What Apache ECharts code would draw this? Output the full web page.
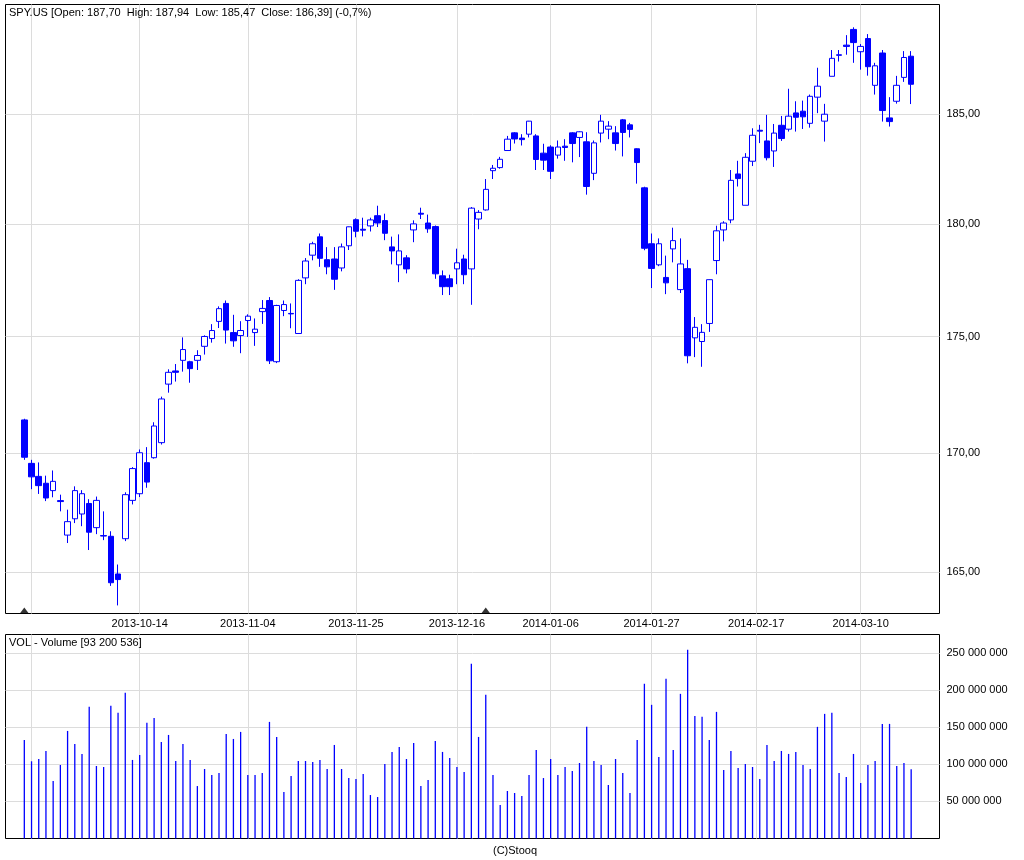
<!DOCTYPE html>
<html><head><meta charset="utf-8">
<script src="https://cdn.jsdelivr.net/npm/echarts@6/dist/echarts.min.js"></script>
<style>html,body{margin:0;padding:0;background:#fff}#c{width:1024px;height:860px}</style>
</head><body><div id="c"></div>
<script>
const ticker = 'SPY.US';
const dates = ['2013-09-20','2013-09-23','2013-09-24','2013-09-25','2013-09-26','2013-09-27','2013-09-30',
'2013-10-01','2013-10-02','2013-10-03','2013-10-04','2013-10-07','2013-10-08','2013-10-09','2013-10-10','2013-10-11','2013-10-14','2013-10-15','2013-10-16','2013-10-17','2013-10-18','2013-10-21','2013-10-22','2013-10-23','2013-10-24','2013-10-25','2013-10-28','2013-10-29','2013-10-30','2013-10-31',
'2013-11-01','2013-11-04','2013-11-05','2013-11-06','2013-11-07','2013-11-08','2013-11-11','2013-11-12','2013-11-13','2013-11-14','2013-11-15','2013-11-18','2013-11-19','2013-11-20','2013-11-21','2013-11-22','2013-11-25','2013-11-26','2013-11-27','2013-11-29',
'2013-12-02','2013-12-03','2013-12-04','2013-12-05','2013-12-06','2013-12-09','2013-12-10','2013-12-11','2013-12-12','2013-12-13','2013-12-16','2013-12-17','2013-12-18','2013-12-19','2013-12-20','2013-12-23','2013-12-24','2013-12-26','2013-12-27','2013-12-30','2013-12-31',
'2014-01-02','2014-01-03','2014-01-06','2014-01-07','2014-01-08','2014-01-09','2014-01-10','2014-01-13','2014-01-14','2014-01-15','2014-01-16','2014-01-17','2014-01-21','2014-01-22','2014-01-23','2014-01-24','2014-01-27','2014-01-28','2014-01-29','2014-01-30','2014-01-31',
'2014-02-03','2014-02-04','2014-02-05','2014-02-06','2014-02-07','2014-02-10','2014-02-11','2014-02-12','2014-02-13','2014-02-14','2014-02-18','2014-02-19','2014-02-20','2014-02-21','2014-02-24','2014-02-25','2014-02-26','2014-02-27','2014-02-28',
'2014-03-03','2014-03-04','2014-03-05','2014-03-06','2014-03-07','2014-03-10','2014-03-11','2014-03-12','2014-03-13','2014-03-14','2014-03-17','2014-03-18','2014-03-19'];

const open = [171.40,169.55,169.00,168.71,168.40,167.98,166.54,167.22,167.42,167.86,
166.85,166.52,166.49,164.93,166.39,167.99,168.27,169.58,169.79,170.43,
172.94,173.51,173.97,173.91,173.97,174.58,174.92,175.67,176.46,175.18,
175.05,175.71,175.18,176.10,176.59,173.91,176.15,176.02,175.14,177.59,
178.60,179.42,178.40,178.43,178.03,179.02,180.19,179.76,179.91,180.37,
180.15,178.97,178.17,178.48,179.73,180.48,180.04,179.88,177.68,177.55,
177.99,178.43,177.99,180.22,180.63,182.41,182.55,183.33,184.14,183.90,
184.08,184.00,183.21,183.49,183.12,183.53,184.14,183.93,183.73,182.29,
184.13,184.31,184.14,184.74,184.51,183.41,181.63,179.11,178.17,177.61,
178.88,177.07,178.00,174.95,174.79,175.58,178.36,179.73,180.18,182.26,
180.84,182.84,184.26,183.77,183.31,184.49,184.31,185.06,185.14,184.58,
185.79,184.68,186.76,187.74,188.22,188.96,187.91,188.53,186.34,187.85,
184.83,185.60,186.71,187.70];

const high = [171.45,169.70,169.59,169.03,169.25,168.23,167.60,168.58,168.42,168.04,
168.15,167.53,166.70,165.32,168.33,169.39,170.14,170.24,171.30,172.40,
173.58,173.81,174.97,173.95,174.41,175.06,175.55,176.33,176.59,175.96,
175.68,175.98,175.80,176.61,176.74,176.40,176.59,176.46,177.53,178.47,
179.20,179.57,178.96,178.96,179.12,179.88,180.25,180.28,180.28,180.82,
180.46,179.43,179.53,178.60,180.16,180.73,180.42,179.93,177.92,177.73,
178.89,178.62,180.76,180.62,182.03,182.67,183.04,184.00,184.17,184.08,
184.69,184.08,183.64,183.57,183.79,183.85,184.17,184.21,184.17,183.79,
184.97,184.68,184.45,184.78,184.60,183.43,181.68,179.57,179.35,178.58,
179.83,179.35,178.39,175.86,175.55,177.52,179.92,180.12,182.44,182.86,
183.21,184.35,184.51,184.97,184.55,184.92,186.18,185.60,185.63,185.91,
187.16,185.48,187.99,187.99,188.69,189.06,188.27,188.74,187.39,187.99,
185.79,186.78,187.94,187.94];

const low = [169.70,168.46,168.26,167.96,168.12,167.53,166.21,167.04,166.91,165.92,
166.58,166.33,164.44,163.64,166.29,167.82,168.13,168.52,169.75,170.35,
172.57,173.05,173.48,173.00,173.55,174.22,174.74,175.38,174.70,174.56,
174.28,174.99,174.60,175.56,173.81,173.85,175.90,175.37,175.13,177.31,
178.37,178.08,177.75,177.06,177.88,178.83,179.40,179.44,179.66,179.86,
179.27,178.19,177.40,177.79,179.18,180.22,179.60,177.55,176.83,176.83,
177.31,177.31,176.40,179.76,180.60,182.03,182.50,183.33,183.65,183.56,
183.93,182.44,182.44,182.03,182.96,182.86,182.79,183.03,181.32,181.98,
183.70,183.85,183.33,183.06,183.93,181.82,178.82,177.14,178.11,176.87,
178.28,176.92,173.84,174.11,173.69,175.21,177.75,179.22,180.03,181.69,
180.84,182.62,183.67,182.88,182.58,183.77,184.20,184.20,184.32,184.38,
185.05,183.74,186.76,187.45,187.77,187.39,187.07,186.79,185.91,184.66,
184.43,185.49,186.50,185.47];

const close = [169.81,168.98,168.61,168.09,168.79,167.94,167.10,168.40,168.27,166.66,
167.99,166.50,164.57,164.70,168.23,169.33,170.00,168.76,171.14,172.30,
173.45,173.45,174.44,173.61,174.18,175.01,175.27,176.23,175.29,174.82,
175.27,175.90,175.33,176.24,173.95,176.37,176.41,176.00,177.48,178.34,
179.11,178.46,178.08,177.53,178.97,179.87,179.67,179.72,180.18,180.04,
179.58,178.79,178.79,177.99,180.00,180.44,179.78,177.77,177.20,177.20,
178.26,177.73,180.71,180.52,181.56,182.52,182.93,183.85,183.86,183.83,
184.68,182.92,182.89,182.38,183.49,183.47,183.65,184.19,181.69,183.68,
184.68,184.45,183.65,184.16,184.30,182.78,178.91,178.01,179.11,177.37,
179.25,178.21,174.17,175.41,175.19,177.51,179.69,180.04,181.97,182.05,
183.02,184.03,184.22,183.00,184.13,183.88,184.91,184.86,184.88,185.83,
186.30,185.00,187.60,187.77,188.16,188.34,188.16,187.21,187.25,185.17,
184.66,186.34,187.64,186.39];

const volume = [132900000,104100000,107200000,118000000,77500000,99100000,145000000,127500000,114000000,177500000,
97700000,96400000,178800000,169400000,196400000,105900000,112600000,155900000,162600000,130200000,
139600000,104500000,127500000,105900000,70700000,93700000,85600000,88300000,141000000,134200000,
143700000,85600000,85600000,88300000,157200000,136900000,62600000,84200000,104500000,104500000,
103200000,105900000,93700000,126100000,93700000,81500000,80200000,86900000,58600000,55900000,
100500000,116700000,123400000,107200000,128800000,70700000,78800000,131500000,116700000,108600000,
96400000,89600000,235600000,136900000,193700000,85600000,45000000,64000000,61300000,57200000,
85600000,119400000,81500000,107200000,85600000,96400000,91000000,101800000,150500000,104500000,
99100000,72100000,107200000,88300000,61300000,132900000,208600000,180200000,109900000,215300000,
119400000,195000000,254500000,165300000,164000000,132900000,170700000,92300000,118000000,95000000,
100500000,96400000,80200000,126100000,104500000,118000000,114000000,116700000,99100000,93700000,
150500000,168000000,169400000,88300000,82900000,114000000,74800000,99100000,104500000,154500000,
154500000,97700000,101800000,93200536];

const gridDates = ['2013-09-23','2013-10-14','2013-11-04','2013-11-25','2013-12-16','2014-01-06','2014-01-27','2014-02-17','2014-03-10'];
const labelDates = ['2013-10-14','2013-11-04','2013-11-25','2013-12-16','2014-01-06','2014-01-27','2014-02-17','2014-03-10'];
const priceTicks = [165, 170, 175, 180, 185];
const volumeTicks = [50000000, 100000000, 150000000, 200000000, 250000000];
const dividendDates = ['2013-09-20', '2013-12-20'];

// ---- helpers ----
const FONT = 'Liberation Sans';
const BLUE = '#0000ff';
const GRIDC = '#dcdcdc';
function dayPos(d) {
  const i = dates.indexOf(d);
  if (i >= 0) return i;
  const j = dates.findIndex(x => x > d);
  return j - 0.5;
}
const fmtPrice = v => v.toFixed(2).replace('.', ',');
const fmtVol = v => String(Math.round(v)).replace(/\B(?=(\d{3})+(?!\d))/g, ' ');
const gridX = gridDates.map(dayPos);
const labelX = labelDates.map(dayPos);
function labelFor(v) {
  for (let i = 0; i < labelX.length; i++) if (Math.abs(labelX[i] - v) < 0.01) return labelDates[i];
  return '';
}
const xMin = -2.61, xMax = 126.93;
const yMin = Math.log(163.31), yMax = Math.log(190.14);
const priceTicksLn = priceTicks.map(Math.log);

const candleData = dates.map((d, i) => [i, Math.log(open[i]), Math.log(close[i]), Math.log(low[i]), Math.log(high[i])]);
const volData = dates.map((d, i) => [i, volume[i]]);
const divData = dividendDates.map(d => [dayPos(d), yMin]);

const n = dates.length - 1;
const pct = ((close[n] / close[n - 1] - 1) * 100).toFixed(1).replace('.', ',');
const header = ticker + ' [Open: ' + fmtPrice(open[n]) + '  High: ' + fmtPrice(high[n]) + '  Low: ' + fmtPrice(low[n]) + '  Close: ' + fmtPrice(close[n]) + '] (' + pct + '%)';
const volHeader = 'VOL - Volume [' + fmtVol(volume[n]) + ']';

const txt = {fontSize: 11, fontWeight: 'normal', color: '#000', fontFamily: FONT};
const chart = echarts.init(document.getElementById('c'), null, {renderer: 'canvas'});
chart.setOption({
  animation: false,
  backgroundColor: '#ffffff',
  textStyle: {fontFamily: FONT},
  title: [
    {text: header, left: 9, top: 7, padding: 0, textStyle: txt},
    {text: volHeader, left: 9, top: 637, padding: 0, textStyle: txt},
    {text: '(C)Stooq', left: 493, top: 845, padding: 0, textStyle: txt}
  ],
  grid: [
    {left: 5.5, top: 4.5, width: 934, height: 609, show: true, borderColor: '#000', borderWidth: 1, backgroundColor: 'rgba(0,0,0,0)', containLabel: false, outerBoundsMode: 'none'},
    {left: 5.5, top: 634.5, width: 934, height: 204, show: true, borderColor: '#000', borderWidth: 1, backgroundColor: 'rgba(0,0,0,0)', containLabel: false, outerBoundsMode: 'none'}
  ],
  xAxis: [
    {type: 'value', gridIndex: 0, min: xMin, max: xMax,
     axisLine: {show: false}, axisTick: {show: false, customValues: gridX},
     splitLine: {show: true, lineStyle: {color: GRIDC, width: 1}},
     axisLabel: {customValues: labelX, formatter: labelFor, fontSize: 11, color: '#000', margin: 5, fontFamily: FONT}},
    {type: 'value', gridIndex: 1, min: xMin, max: xMax,
     axisLine: {show: false}, axisTick: {show: false, customValues: gridX},
     splitLine: {show: true, lineStyle: {color: GRIDC, width: 1}},
     axisLabel: {show: false}}
  ],
  yAxis: [
    {type: 'value', gridIndex: 0, position: 'right', min: yMin, max: yMax,
     axisLine: {show: false},
     axisTick: {show: false, customValues: priceTicksLn},
     axisLabel: {customValues: priceTicksLn, formatter: v => fmtPrice(Math.exp(v)), margin: 7, fontSize: 11, color: '#000', fontFamily: FONT},
     splitLine: {show: true, lineStyle: {color: GRIDC, width: 1}}},
    {type: 'value', gridIndex: 1, position: 'right', min: 0, max: 275000000,
     axisLine: {show: false},
     axisTick: {show: false, customValues: volumeTicks},
     axisLabel: {customValues: volumeTicks, formatter: v => fmtVol(v), margin: 7, fontSize: 11, color: '#000', fontFamily: FONT},
     splitLine: {show: true, lineStyle: {color: GRIDC, width: 1}}}
  ],
  series: [
    {type: 'candlestick', name: ticker, xAxisIndex: 0, yAxisIndex: 0,
     dimensions: ['x', 'open', 'close', 'lowest', 'highest'],
     encode: {x: 'x', y: ['open', 'close', 'lowest', 'highest']},
     data: candleData, barWidth: 6,
     itemStyle: {color: '#ffffff', color0: BLUE, borderColor: BLUE, borderColor0: BLUE, borderWidth: 1}},
    {type: 'bar', name: 'VOL', xAxisIndex: 1, yAxisIndex: 1, data: volData, barWidth: 1.3,
     itemStyle: {color: BLUE}},
    {type: 'scatter', xAxisIndex: 0, yAxisIndex: 0, data: divData, symbol: 'triangle',
     symbolSize: [9, 6], symbolOffset: [0, -3], itemStyle: {color: '#000'}, z: 5}
  ]
});
</script>
</body></html>
